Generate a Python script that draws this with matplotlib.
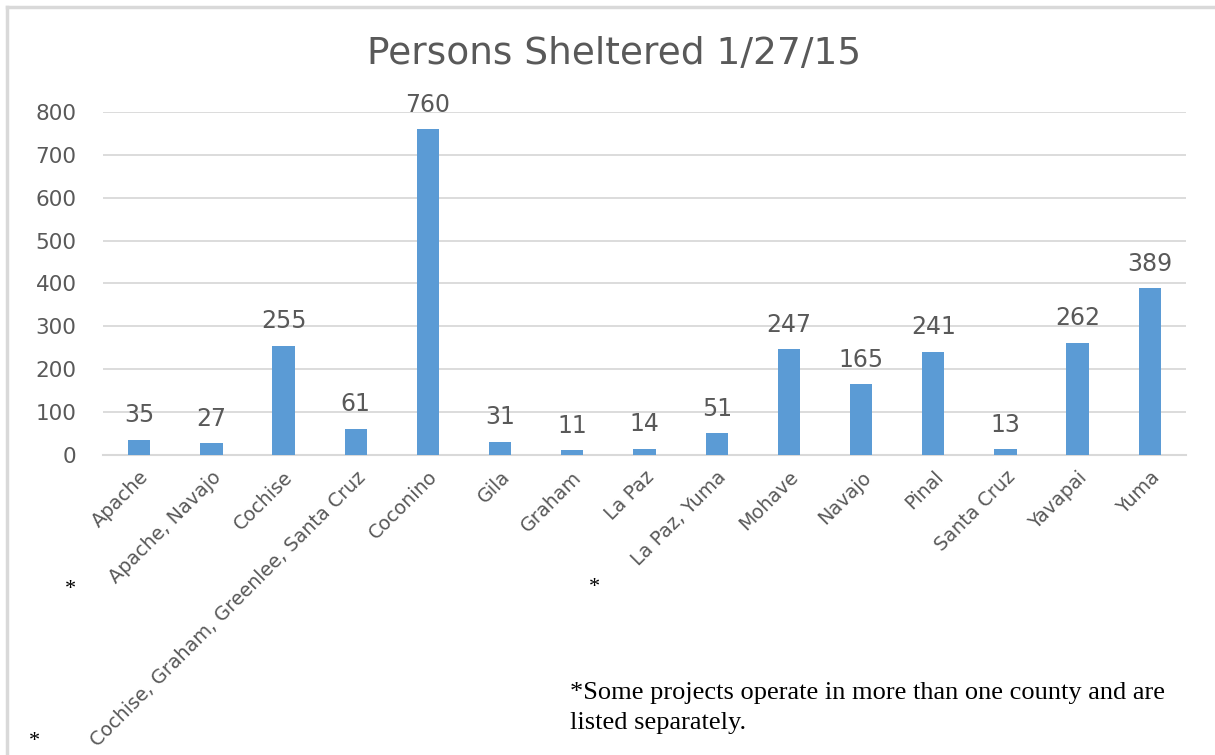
import numpy as np
import matplotlib.pyplot as plt
from matplotlib.lines import Line2D

# Data
counties = ["Apache", "Apache, Navajo", "Cochise", "Cochise, Graham, Greenlee, Santa Cruz",
            "Coconino", "Gila", "Graham", "La Paz", "La Paz, Yuma", "Mohave", "Navajo",
            "Pinal", "Santa Cruz", "Yavapai", "Yuma"]
sheltered = [35, 27, 255, 61, 760, 31, 11, 14, 51, 247, 165, 241, 13, 262, 389]
yticks = [0, 100, 200, 300, 400, 500, 600, 700, 800]

title = "Persons Sheltered 1/27/15"
footnote = "*Some projects operate in more than one county and are\nlisted separately."

bar_color = '#5B9BD5'
text_color = '#595959'
grid_color = '#D9D9D9'

plt.rcParams['font.family'] = ['DejaVu Sans']

fig = plt.figure(figsize=(12.15, 7.55), dpi=100)
ax = fig.add_axes([0.0848, 0.3974, 0.8913, 0.4543])

x = np.arange(len(counties))
bars = ax.bar(x, sheltered, width=0.31, color=bar_color, zorder=3)

ax.set_xlim(-0.5, len(counties) - 0.5)
ax.set_ylim(0, 800)
ax.set_yticks(yticks)
ax.set_yticklabels([str(v) for v in yticks], fontsize=15.5, color=text_color)
ax.tick_params(axis='y', length=0, pad=19)
ax.grid(axis='y', color=grid_color, linewidth=1.3, zorder=0)
for side in ['top', 'right', 'left']:
    ax.spines[side].set_visible(False)
ax.spines['bottom'].set_color(grid_color)
ax.spines['bottom'].set_linewidth(1.5)

ax.set_xticks(x)
ax.set_xticklabels(counties, rotation=45, ha='right', rotation_mode='anchor',
                   fontsize=13.8, color=text_color)
ax.tick_params(axis='x', length=0, pad=9)

# value labels
for xi, v in zip(x, sheltered):
    ax.annotate(str(v), (xi, v), xytext=(0, 9), textcoords='offset points',
                ha='center', va='bottom', fontsize=17, color=text_color)

fig.text(0.505, 1 - 54 / 755, title, ha='center', va='center',
         fontsize=27, color=text_color)

# asterisks marking multi-county projects
serif = ['Liberation Serif', 'DejaVu Serif']
for px, py in [(70, 590), (594, 588), (34, 742)]:
    fig.text(px / 1215, 1 - py / 755, "*", ha='center', va='center',
             fontsize=16, color='black', family=serif)

fig.text(570 / 1215, 1 - 708 / 755, footnote, ha='left', va='center',
         fontsize=19, color='black', family=serif, linespacing=1.5)

# light frame on top and left
fig.add_artist(Line2D([7 / 1215, 1], [1 - 7 / 755, 1 - 7 / 755],
                      transform=fig.transFigure, color=grid_color, linewidth=2.5))
fig.add_artist(Line2D([7 / 1215, 7 / 1215], [0, 1 - 7 / 755],
                      transform=fig.transFigure, color=grid_color, linewidth=2.5))

plt.savefig('out.png', dpi=100)
